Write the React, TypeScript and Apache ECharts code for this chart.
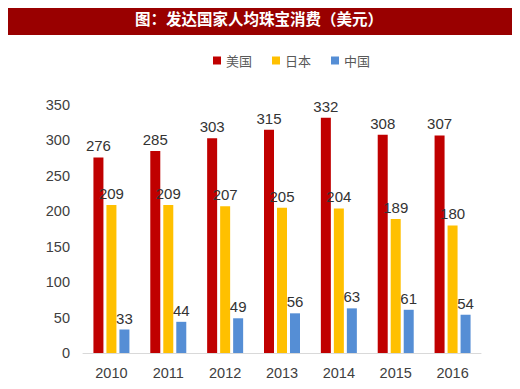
import React, { useEffect, useRef } from "react";
import * as echarts from "echarts";

const years = ["2010", "2011", "2012", "2013", "2014", "2015", "2016"];
const usa = [276, 285, 303, 315, 332, 308, 307];
const japan = [209, 209, 207, 205, 204, 189, 180];
const china = [33, 44, 49, 56, 63, 61, 54];
const seriesNames = ["美国", "日本", "中国"];
const colors = ["#C00000", "#FFC000", "#558ED5"];
const titleText = "图：发达国家人均珠宝消费（美元）";

export default function App() {
  const ref = useRef<HTMLDivElement>(null);
  useEffect(() => {
    if (!ref.current) return;
    const chart = echarts.init(ref.current, null, { renderer: "svg" });
    const label = {
      show: true,
      position: "top" as const,
      distance: 4,
      color: "#333333",
      fontSize: 15,
      fontFamily: "Liberation Sans, Arial, sans-serif",
    };
    const data = [usa, japan, china];
    chart.setOption({
      animation: false,
      backgroundColor: "#ffffff",
      graphic: [
        {
          type: "rect",
          shape: { x: 2, y: 0, width: 518, height: 35 },
          style: { fill: "#990000" },
        },
        {
          type: "text",
          x: 259,
          y: 18,
          style: {
            text: titleText,
            fill: "#ffffff",
            font: "bold 15.5px 'Noto Sans CJK SC'",
            textAlign: "center",
            textVerticalAlign: "middle",
          },
        },
      ],
      legend: {
        data: seriesNames,
        top: 49,
        left: 208,
        itemWidth: 8,
        itemHeight: 8,
        itemGap: 20,
        icon: "rect",
        textStyle: {
          color: "#595959",
          fontSize: 13,
          fontFamily: "Noto Sans CJK SC",
        },
      },
      grid: { left: 83, right: 39, top: 105, bottom: 36 },
      xAxis: {
        type: "category",
        data: years,
        axisLine: { lineStyle: { color: "#d9d9d9", width: 1 } },
        axisTick: { show: false },
        axisLabel: {
          color: "#404040",
          fontSize: 14.5,
          margin: 12,
          fontFamily: "Liberation Sans, Arial, sans-serif",
        },
      },
      yAxis: {
        type: "value",
        min: 0,
        max: 350,
        interval: 50,
        splitLine: { show: false },
        axisLine: { show: false },
        axisTick: { show: false },
        axisLabel: {
          color: "#404040",
          fontSize: 14.5,
          margin: 13,
          fontFamily: "Liberation Sans, Arial, sans-serif",
        },
      },
      series: seriesNames.map((name, i) => ({
        name,
        type: "bar",
        data: data[i],
        barWidth: 10,
        barGap: "30%",
        barCategoryGap: "40%",
        itemStyle: { color: colors[i] },
        label,
      })),
    });
    return () => chart.dispose();
  }, []);
  return <div ref={ref} style={{ width: 520, height: 389, margin: -8 }} />;
}
